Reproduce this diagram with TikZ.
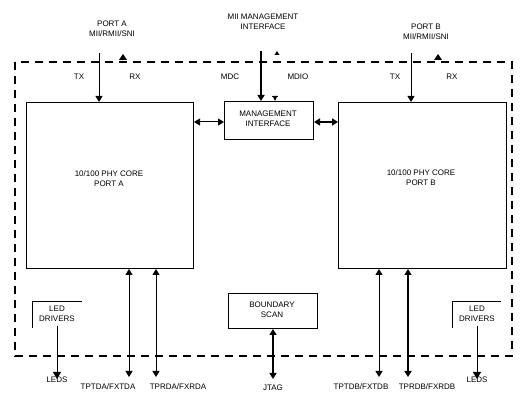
\documentclass[tikz,border=0pt]{standalone}
\usepackage{fontspec}
\setmainfont{Liberation Sans}
\usetikzlibrary{arrows.meta}
\begin{document}
\begin{tikzpicture}[x=1pt,y=-1pt,
  lbl/.style={font=\fontsize{8}{10}\selectfont, inner sep=0pt, align=center},
  blk/.style={draw, line width=1pt, inner sep=0pt, anchor=north west},
  arr/.style={line width=1pt, -{Triangle[length=6pt,width=7pt]}},
  darr/.style={line width=1pt, {Triangle[length=6pt,width=7pt]}-{Triangle[length=6pt,width=7pt]}},
  tarr/.style={line width=2pt, -{Triangle[length=6pt,width=7pt]}},
  tdarr/.style={line width=2pt, {Triangle[length=6pt,width=7pt]}-{Triangle[length=6pt,width=7pt]}},
  tip/.style={fill=black}
]
\useasboundingbox (0,0) rectangle (520,419);
% outer dashed chip boundary
\draw[line width=1.2pt, dash pattern=on 8pt off 6pt] (15,62) rectangle (512,356);

% blocks
\node[blk, minimum width=167pt, minimum height=166pt] (A) at (26,102) {};
\node[blk, minimum width=168pt, minimum height=166pt] (B) at (338,102) {};
\node[blk, minimum width=89pt, minimum height=38pt] (M) at (224,101) {};
\node[blk, minimum width=89pt, minimum height=35pt] (S) at (228,293) {};

\node[lbl] (At) at (109,179) {10/100 PHY CORE\\PORT A};
\node[lbl] (Bt) at (421,178) {10/100 PHY CORE\\PORT B};
\node[lbl] (Mt) at (268,119) {MANAGEMENT\\INTERFACE};
\node[lbl] (St) at (272,310) {BOUNDARY\\SCAN};

% top labels
\node[lbl] (pa) at (112,29) {PORT A\\MII/RMII/SNI};
\node[lbl] (pb) at (426,32) {PORT B\\MII/RMII/SNI};
\node[lbl] (mii) at (263,22) {MII MANAGEMENT\\INTERFACE};
\node[lbl] (txa) at (79,77) {TX};
\node[lbl] (rxa) at (135,77) {RX};
\node[lbl] (mdc) at (230,77) {MDC};
\node[lbl] (mdio) at (298,77) {MDIO};
\node[lbl] (txb) at (395,77) {TX};
\node[lbl] (rxb) at (452,77) {RX};

% top arrows
\coordinate (pAin) at (99,53);
\coordinate (pBin) at (411,53);
\coordinate (mIn) at (261,51);
\draw[arr] (pAin) -- (pAin |- A.north);
\draw[arr] (pBin) -- (pBin |- B.north);
\draw[tarr] (mIn) -- (mIn |- M.north);
% small RX / MDIO tips
\fill[tip] (123,54) -- (119,60) -- (127,60) -- cycle;
\fill[tip] (438,54) -- (434,60) -- (442,60) -- cycle;
\fill[tip] (277,51) -- (274.5,55) -- (279.5,55) -- cycle;
\fill[tip] (275,101) -- (272.5,96) -- (277.5,96) -- cycle;
\draw[line width=0.8pt] (272,96) -- (278,96);

% side links
\draw[darr] (A.east |- 0,122) -- (M.west |- 0,122);
\draw[tdarr] (M.east |- 0,122) -- (B.west |- 0,122);

% bottom lines
\coordinate (a1) at (129,377);
\coordinate (a2) at (156,377);
\coordinate (b1) at (379,377);
\coordinate (b2) at (408,377);
\coordinate (jt) at (273,379);
\draw[darr] (a1 |- A.south) -- (a1);
\draw[darr] (a2 |- A.south) -- (a2);
\draw[darr] (b1 |- B.south) -- (b1);
\draw[tdarr] (b2 |- B.south) -- (b2);
\draw[tdarr, line width=1.4pt] (jt |- S.south) -- (jt);

\node[lbl] (la1) at (108,387) {TPTDA/FXTDA};
\node[lbl] (la2) at (178,387) {TPRDA/FXRDA};
\node[lbl] (lb1) at (361,387) {TPTDB/FXTDB};
\node[lbl] (lb2) at (427,387) {TPRDB/FXRDB};
\node[lbl] (jtag) at (273,388) {JTAG};

% LED drivers
\draw[line width=1pt] (32,328) -- (32,302) -- (82,302);
\draw[line width=1pt] (452,328) -- (452,302) -- (501,302);
\node[lbl] (ledA) at (57,314) {LED\\DRIVERS};
\node[lbl] (ledB) at (477,314) {LED\\DRIVERS};
\node[lbl] (ledsA) at (57,380) {LEDS};
\node[lbl] (ledsB) at (477,380) {LEDS};
\draw[line width=1pt, -{Triangle[length=7pt,width=8pt]}] (ledA.south) ++(0,4) -- ([yshift=-2pt]ledsA.north);
\draw[line width=1pt, -{Triangle[length=7pt,width=8pt]}] (ledB.south) ++(0,4) -- ([yshift=-2pt]ledsB.north);
\end{tikzpicture}
\end{document}
